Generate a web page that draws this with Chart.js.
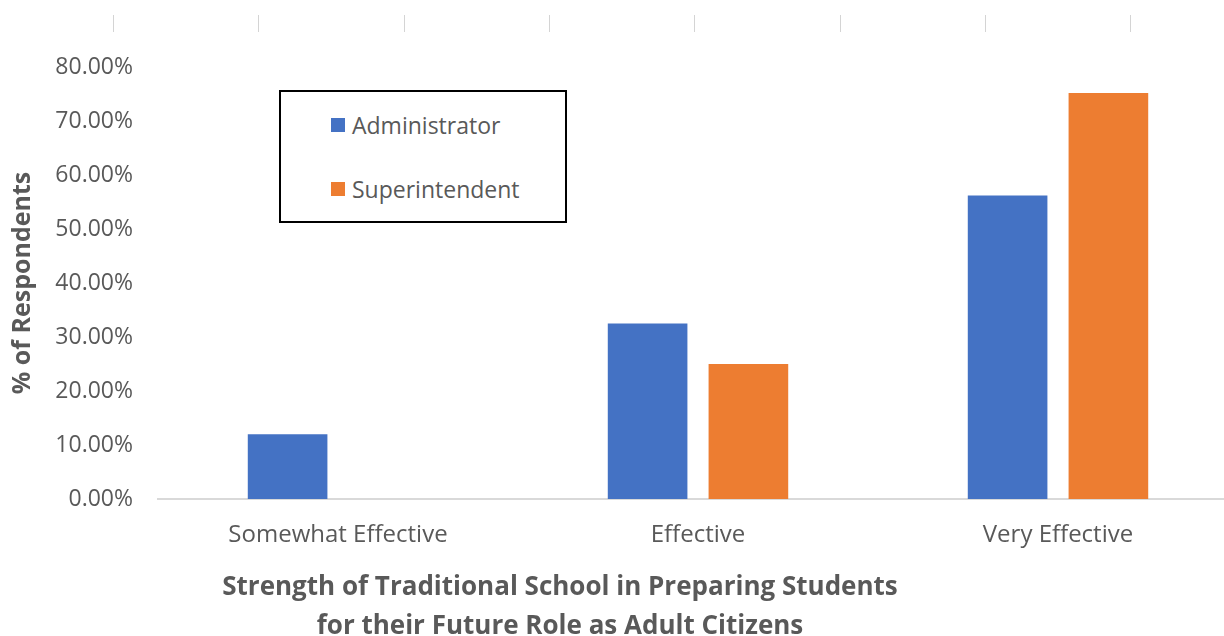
<!DOCTYPE html>
<html>
<head>
<meta charset="utf-8">
<script src="https://cdn.jsdelivr.net/npm/chart.js@4"></script>
<style>
  html, body { margin: 0; padding: 0; background: #fff; overflow: hidden; }
  #wrap { position: relative; width: 1240px; height: 636px; }
  #legend {
    position: absolute; left: 279px; top: 90px; width: 284px; height: 129px;
    border: 2px solid #000; background: #fff;
    font-family: "Open Sans", sans-serif; font-size: 23px; color: #595959;
  }
  #legend .item { position: absolute; left: 50px; display: flex; align-items: center; }
  #legend .sw { width: 14px; height: 14px; margin-right: 7px; }
  #xtitle {
    position: absolute; left: 160px; width: 800px; top: 566px;
    text-align: center; font-family: "Open Sans", sans-serif; font-weight: bold;
    font-size: 26px; line-height: 39px; color: #595959;
  }
</style>
</head>
<body>
<div id="wrap">
  <canvas id="myChart" width="1240" height="636"></canvas>
  <div id="legend"></div>
  <div id="xtitle">Strength of Traditional School in Preparing Students<br>for their Future Role as Adult Citizens</div>
</div>
<script>
var categories = ["Somewhat Effective", "Effective", "Very Effective"];
var administrator = [12.0, 32.5, 56.2];
var superintendent = [0, 25.0, 75.2];
var seriesNames = ["Administrator", "Superintendent"];
var seriesColors = ["#4472C4", "#ED7D31"];

// faint tick marks along the top edge
var topTicks = {
  id: 'topTicks',
  afterDraw: function (chart) {
    var c = chart.ctx;
    c.save();
    c.strokeStyle = '#d4d4d4';
    c.lineWidth = 1;
    for (var i = 0; i < 8; i++) {
      var x = Math.round(113 + i * 145.3) + 0.5;
      c.beginPath();
      c.moveTo(x, 15);
      c.lineTo(x, 32);
      c.stroke();
    }
    c.restore();
  }
};

var ctx = document.getElementById("myChart");
var myChart = new Chart(ctx, {
  type: 'bar',
  data: {
    labels: categories,
    datasets: [
      {
        label: seriesNames[0],
        data: administrator,
        backgroundColor: seriesColors[0],
        barPercentage: 0.79,
        categoryPercentage: 0.56
      },
      {
        label: seriesNames[1],
        data: superintendent,
        backgroundColor: seriesColors[1],
        barPercentage: 0.79,
        categoryPercentage: 0.56
      }
    ]
  },
  options: {
    responsive: false,
    maintainAspectRatio: false,
    animation: false,
    layout: { padding: { top: 67, right: 2, bottom: 77, left: 0 } },
    plugins: {
      legend: { display: false },
      tooltip: { enabled: false }
    },
    scales: {
      x: {
        grid: { display: false },
        border: { color: '#d9d9d9', width: 2 },
        ticks: {
          padding: 14,
          color: '#595959',
          font: { family: 'Open Sans', size: 24 }
        },
        afterFit: function (scale) { scale.height = 60; }
      },
      y: {
        min: 0,
        max: 80,
        grid: { display: false },
        border: { display: false },
        ticks: {
          stepSize: 10,
          padding: 17,
          color: '#595959',
          font: { family: 'Open Sans', size: 23 },
          callback: function (v) { return v.toFixed(2) + '%'; }
        },
        title: {
          display: true,
          text: '% of Respondents',
          color: '#595959',
          font: { family: 'Open Sans', size: 25, weight: 'bold' },
          padding: { top: 8, bottom: 0 }
        },
        afterFit: function (scale) { scale.width = 158; }
      }
    }
  },
  plugins: [topTicks]
});

// legend box built from the datasets
var legendEl = document.getElementById('legend');
myChart.data.datasets.forEach(function (ds, i) {
  var item = document.createElement('div');
  item.className = 'item';
  item.style.top = (i === 0 ? 17 : 81) + 'px';
  var sw = document.createElement('span');
  sw.className = 'sw';
  sw.style.background = ds.backgroundColor;
  var txt = document.createElement('span');
  txt.textContent = ds.label;
  item.appendChild(sw);
  item.appendChild(txt);
  legendEl.appendChild(item);
});
</script>
</body>
</html>
